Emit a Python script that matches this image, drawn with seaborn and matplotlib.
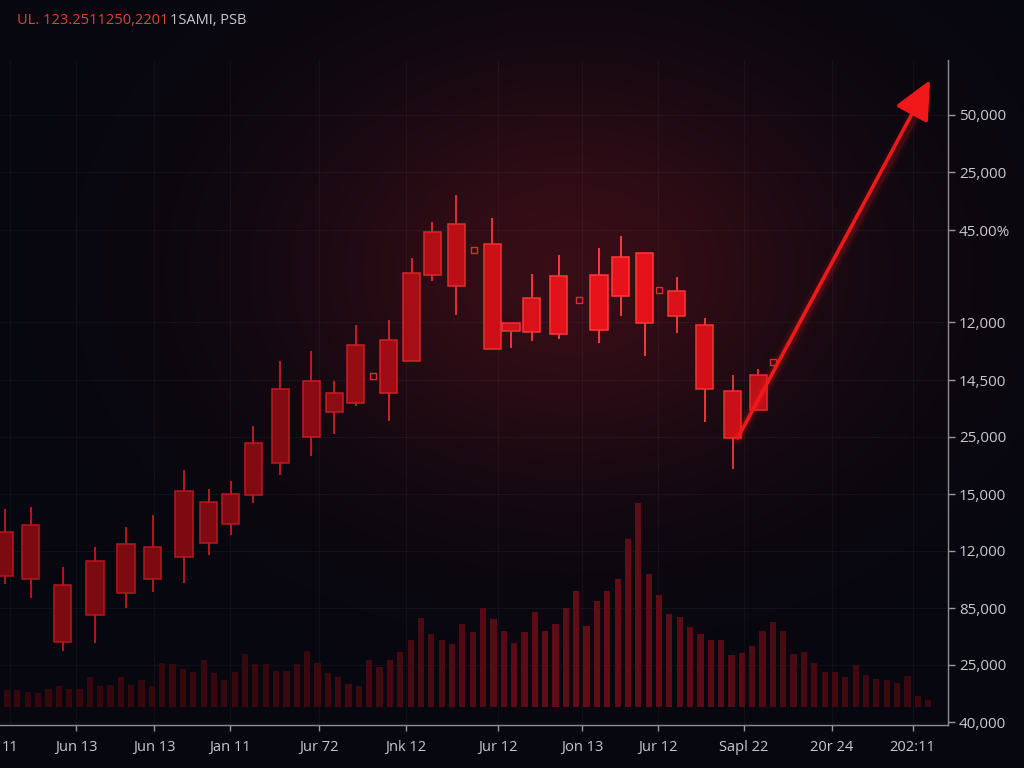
import numpy as np
import pandas as pd
import seaborn as sns
import matplotlib.pyplot as plt
from matplotlib.colors import to_rgb

# ---- data (session index on x, price on y) ----
candle_x = [-0.2, 2.3, 5.4, 8.5, 11.5, 14.1, 17.1, 19.5, 21.6, 23.8, 26.4, 29.4,
            31.6, 33.7, 36.9, 39.1, 41.1, 43.4, 46.9, 48.7, 50.7, 53.3, 57.2,
            59.3, 61.6, 64.7, 67.4, 70.1, 72.6]
candle_open = [14.9, 20.0, 14.0, 11.0, 13.2, 17.8, 16.8, 22.3, 20.1, 23.0, 26.2, 28.8,
               33.2, 32.2, 33.2, 36.4, 45.0, 50.1, 48.1, 40.2, 42.7, 44.9, 39.5,
               42.9, 47.2, 43.4, 40.0, 33.4, 31.5]
candle_close = [19.3, 14.6, 8.3, 16.4, 18.1, 14.6, 23.4, 18.2, 23.1, 28.2, 33.6, 34.4,
                31.3, 38.0, 38.5, 45.2, 49.3, 43.9, 37.6, 39.4, 39.3, 39.1, 45.0,
                46.8, 40.2, 40.9, 33.6, 28.7, 35.0]
candle_high = [21.6, 21.8, 15.8, 17.8, 19.8, 21.0, 25.5, 23.6, 24.4, 29.9, 36.4, 37.4,
               34.4, 40.0, 40.5, 46.7, 50.3, 53.0, 50.7, 40.2, 45.1, 47.0, 47.7,
               48.9, 47.2, 44.8, 40.7, 35.0, 35.6]
candle_low = [14.1, 12.7, 7.4, 8.2, 11.7, 13.3, 14.2, 17.0, 19.0, 22.2, 25.0, 26.9,
              29.1, 31.9, 30.4, 36.4, 44.4, 41.0, 37.6, 37.7, 38.4, 38.6, 38.2,
              40.9, 36.9, 39.2, 30.3, 25.6, 31.5]

doji_x = [35.4, 45.1, 55.3, 63.0, 74.0]
doji_price = [34.9, 47.5, 42.5, 43.5, 36.3]

volume = [17, 17, 15, 14, 18, 21, 18, 18, 30, 21, 22, 30, 22, 27, 21, 44, 43, 38,
          35, 47, 34, 27, 35, 53, 43, 43, 36, 36, 43, 56, 44, 34, 30, 23, 21, 47,
          40, 47, 55, 67, 89, 73, 67, 63, 83, 75, 99, 88, 76, 64, 75, 95, 76, 83,
          99, 116, 81, 106, 116, 128, 168, 204, 133, 112, 93, 90, 80, 73, 67, 67,
          52, 54, 61, 76, 85, 76, 53, 55, 44, 35, 35, 30, 42, 32, 28, 27, 24, 31,
          11, 7]

x_tick_pos = [0.3, 6.67, 14.2, 21.55, 30.14, 38.55, 47.44, 55.56, 62.9, 71.2, 79.7, 87.5]
x_tick_labels = ["11", "Jun 13", "Jun 13", "Jan 11", "Jur 72", "Jnk 12", "Jur 12",
                 "Jon 13", "Jur 12", "Sapl 22", "20r 24", "202:11"]
y_tick_pos = [61.0, 55.3, 49.5, 40.3, 34.5, 28.8, 23.1, 17.4, 11.7, 6.0, 0.3]
y_tick_labels = ["50,000", "25,000", "45.00%", "12,000", "14,500", "25,000",
                 "15,000", "12,000", "85,000", "25,000", "40,000"]

arrow_start = (70.6, 28.7)
arrow_end = (89.2, 64.5)

title_red = "UL. 123.2511250,2201"
title_grey = "1SAMI, PSB"

candles = pd.DataFrame({"x": candle_x, "open": candle_open, "close": candle_close,
                        "high": candle_high, "low": candle_low})
vol = pd.DataFrame({"session": np.arange(len(volume)), "volume": volume})

# ---- style ----
sns.set_theme(style="dark")
plt.rcParams["font.family"] = ["Open Sans", "DejaVu Sans"]
BG = "#07070f"
TXT = "#c9c9cc"


def mix(c1, c2, t):
    a, b = np.array(to_rgb(c1)), np.array(to_rgb(c2))
    return tuple(a + (b - a) * t)


def glow_weight(x):
    return np.exp(-((np.asarray(x) - 58) / 20.0) ** 2)


fig = plt.figure(figsize=(10.24, 7.68), dpi=100, facecolor=BG)

# background glow
bg = fig.add_axes([0, 0, 1, 1], zorder=-10)
gx, gy = np.meshgrid(np.linspace(0, 1024, 512), np.linspace(0, 768, 384))
g = np.exp(-(((gx - 570) / 280) ** 2 + ((gy - 270) / 210) ** 2))
base = np.array(to_rgb(BG))
img = base[None, None, :] + g[..., None] * np.array([0.19, 0.025, 0.03])[None, None, :]
bg.imshow(np.clip(img, 0, 1), extent=[0, 1, 0, 1], aspect="auto", origin="upper")
bg.set_axis_off()

ax = fig.add_axes([-30 / 1024, 43 / 768, 978 / 1024, 665 / 768])
ax.set_facecolor("none")

# volume on twin axis
axv = ax.twinx()
sns.barplot(data=vol, x="session", y="volume", native_scale=True, width=0.6,
            errorbar=None, color="#400a10", ax=axv)
vw = glow_weight(vol["session"])
for patch, w in zip(axv.patches, vw):
    patch.set_facecolor(mix("#36080e", "#620c16", w))
    patch.set_edgecolor("none")
axv.set_ylim(-18, 647)
axv.set_yticks([])
axv.set_ylabel("")
axv.set_xlabel("")
axv.grid(False)
for s in axv.spines.values():
    s.set_visible(False)

# candles
cw = glow_weight(candles["x"])
body_col = [mix("#7c0a11", "#e8121a", w) for w in cw]
edge_col = [mix("#b8161e", "#ff3b3b", w) for w in cw]
lo = candles[["open", "close"]].min(axis=1)
hi = candles[["open", "close"]].max(axis=1)
ax.vlines(candles["x"], candles["low"], lo, colors=edge_col, lw=1.4, zorder=3)
ax.vlines(candles["x"], hi, candles["high"], colors=edge_col, lw=1.4, zorder=3)
ax.bar(candles["x"], hi - lo, bottom=lo, width=1.65, color=body_col,
       edgecolor=edge_col, linewidth=1.1, zorder=4)

sns.scatterplot(x=doji_x, y=doji_price, marker="s", s=20, color="none",
                edgecolor="#e8262a", linewidth=1.0, ax=ax, zorder=4)

# trend arrow with glow
for lw, a in [(10, 0.07), (6, 0.14)]:
    ax.plot([arrow_start[0], arrow_end[0] - 1.2], [arrow_start[1], arrow_end[1] - 3.0],
            color="#ff2020", lw=lw, alpha=a, solid_capstyle="round", zorder=5)
ax.annotate("", xy=arrow_end, xytext=arrow_start,
            arrowprops=dict(arrowstyle="-|>,head_length=1.6,head_width=0.75",
                            color="#f01818", lw=2.6, mutation_scale=15,
                            shrinkA=0, shrinkB=0), zorder=6)

ax.set_xlim(-3.575, 90.92)
ax.set_ylim(0, 66.5)

ax.set_xticks(x_tick_pos)
ax.set_xticklabels(x_tick_labels)
ax.yaxis.tick_right()
ax.set_yticks(y_tick_pos)
ax.set_yticklabels(y_tick_labels)
ax.tick_params(axis="x", colors="#9a9a9a", labelcolor=TXT, labelsize=10.5,
               length=4, width=1, pad=7, direction="out", bottom=True)
ax.tick_params(axis="y", colors="#9a9a9a", labelcolor=TXT, labelsize=11,
               length=5, width=1, pad=3, direction="out", right=True, left=False)
ax.xaxis.get_major_ticks()[0].tick1line.set_visible(False)
ax.grid(True, color="white", alpha=0.04, lw=0.8)
for side in ["top", "left"]:
    ax.spines[side].set_visible(False)
for side in ["bottom", "right"]:
    ax.spines[side].set_visible(True)
    ax.spines[side].set_color("#8e8e92")
    ax.spines[side].set_linewidth(1.0)
ax.set_xlabel("")
ax.set_ylabel("")

t1 = fig.text(17 / 1024, 1 - 21 / 768, title_red, color="#e3452e", fontsize=10.5,
              va="center", ha="left")
fig.canvas.draw()
ax.annotate(title_grey, xy=(1, 0.5), xycoords=t1, xytext=(1, 0),
            textcoords="offset points", color=TXT, fontsize=10.5,
            va="center", ha="left", annotation_clip=False)

fig.savefig("out.png", dpi=100, facecolor=BG)
